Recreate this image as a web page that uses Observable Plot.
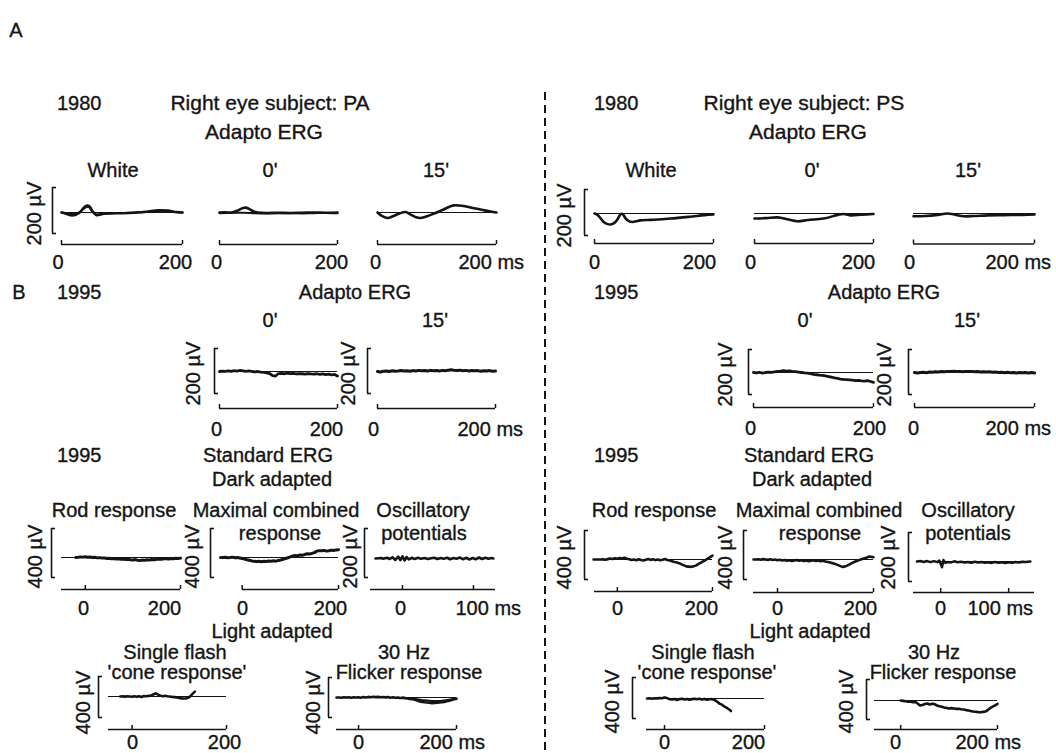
<!DOCTYPE html>
<html><head><meta charset="utf-8">
<script src="https://cdn.jsdelivr.net/npm/d3@7"></script>
<script src="https://cdn.jsdelivr.net/npm/@observablehq/plot@0.6"></script>
<style>
html,body{margin:0;padding:0;background:#fff;}
#fig{position:relative;width:1056px;height:753px;overflow:hidden;background:#fff;font-family:"Liberation Sans",Arial,Helvetica,sans-serif;color:#141414;}
.t{position:absolute;font-size:20px;line-height:20px;white-space:nowrap;-webkit-text-stroke:0.35px #141414;}
.t.big{font-size:21px;}
.p{position:absolute;}
.p svg{overflow:visible;max-width:none !important;height:auto;}
</style></head><body><div id="fig"></div>
<script>
const INK = "#141414";
const FONT = '"Liberation Sans", Arial, Helvetica, sans-serif';

// ---------- time grids (ms) ----------
const T_0_200 = [0,5,10,15,20,25,30,35,40,45,50,55,60,65,70,75,80,85,90,95,100,105,110,115,120,125,130,135,140,145,150,155,160,165,170,175,180,185,190,195,200];
const T_m50_200 = [-50,-45,-40,-35,-30,-25,-20,-15,-10,-5,0,5,10,15,20,25,30,35,40,45,50,55,60,65,70,75,80,85,90,95,100,105,110,115,120,125,130,135,140,145,150,155,160,165,170,175,180,185,190,195,200];

// ---------- 1980 Adapto ERG, subject PA (µV) ----------
const PA_white_t1 = [0,5,10,15,20,25,30,35,40,43,47,50,55,58,62,70,80,100,120,140,160,175,190,200];
const PA_white_v1 = [0,-3,-8,-12,-12,-8,0,15,28,30,25,10,-5,-12,-10,-5,-4,-3,-1,3,10,8,2,0];
const PA_white_t2 = [0,10,20,30,40,45,50,56,65,80,100,120,140,160,175,190,200];
const PA_white_v2 = [0,-4,-6,2,22,24,8,-8,-6,-3,-2,0,2,6,5,1,0];
const PA_0_t1 = [0,10,20,30,38,44,50,58,65,80,100,120,140,160,180,200];
const PA_0_v1 = [0,1,0,8,18,21,16,4,0,-2,-1,-2,-1,0,-1,0];
const PA_0_t2 = [0,20,40,60,80,100,120,140,160,180,200];
const PA_0_v2 = [-3,-2,-1,-3,-4,-3,-3,-4,-3,-2,-3];
const PA_15_t = [0,8,17,27,38,47,55,65,72,82,95,110,128,145,160,175,190,200];
const PA_15_v = [0,-16,-24,-15,-3,2,-8,-21,-24,-17,-5,12,31,28,20,12,4,0];

// ---------- 1980 Adapto ERG, subject PS ----------
const PS_white_t = [0,5,10,15,20,27,33,38,42,45,48,52,57,64,70,77,90,100,128,160,185,200];
const PS_white_v = [0,-6,-20,-36,-44,-48,-42,-28,-10,-1,-4,-20,-32,-37,-34,-30,-28,-27,-22,-14,-7,-4];
const PS_0_t = [0,20,39,55,72,90,116,140,150,161,180,200];
const PS_0_v = [-22,-20,-17,-25,-34,-28,-22,-6,-2,-8,-5,-2];
const PS_15_t = [0,20,40,56,70,83,100,122,150,180,200];
const PS_15_v = [-12,-11,-6,0,-6,-12,-11,-8,-7,-6,-4];

// ---------- 1995 Adapto ERG (on T_0_200) ----------
const PA95_0_v = [0,2,1,3,1,4,2,5,3,1,3,0,-2,0,-3,-4,-6,-9,-18,-20,-9,-8,-10,-7,-9,-8,-11,-9,-10,-12,-9,-11,-12,-10,-13,-11,-14,-12,-15,-13,-20];
const PA95_15_v = [0,-2,1,2,0,3,1,2,4,2,3,1,4,2,5,3,4,2,5,3,4,2,5,3,6,8,5,4,6,3,5,2,4,3,4,1,3,2,4,1,2];
const PS95_0_v = [0,-2,1,-3,0,2,1,3,5,6,8,6,7,5,4,2,0,-2,-3,-5,-8,-10,-12,-13,-15,-18,-21,-24,-26,-29,-31,-32,-33,-34,-36,-35,-37,-38,-36,-40,-44];
const PS95_15_v = [0,-2,0,1,-1,2,1,3,2,4,3,5,4,6,4,5,3,5,4,5,3,4,2,3,2,3,1,2,0,1,-1,1,-1,0,-2,0,-1,0,-2,0,-2];

// ---------- 1995 Standard ERG, dark adapted (on T_m50_200) ----------
const PA_rod_v = [null,null,null,null,null,null,0,2,5,3,6,2,4,0,2,-3,-1,-5,-3,-8,-6,-10,-8,-12,-10,-14,-12,-16,-14,-18,-20,-17,-22,-24,-21,-23,-19,-20,-16,-18,-14,-12,-15,-11,-10,-12,-8,-10,-6,-8,-5];
const PA_max_v = [null,0,0,2,-2,0,3,-2,0,-4,-8,-12,-18,-22,-28,-30,-33,-31,-34,-30,-33,-29,-31,-27,-30,-24,-20,-14,-8,-2,5,12,16,14,20,18,25,30,28,34,40,52,56,55,58,52,55,60,57,62,64];
const PS_rod_v = [0,0,0,0,1,-2,3,8,4,10,6,12,8,14,6,2,-4,0,-6,2,-4,-8,-2,4,-3,2,-5,0,-6,-2,4,-4,-8,-14,-20,-24,-30,-40,-48,-56,-58,-60,-56,-50,-38,-28,-16,-6,8,20,32];
const PS_max_v = [0,0,2,-2,3,0,-3,2,-4,0,-6,-2,-8,-4,-10,-6,-12,-8,-4,-10,-6,-12,-8,-14,-10,-6,-12,-8,-14,-10,-16,-20,-24,-30,-36,-44,-52,-60,-58,-50,-40,-30,-20,-12,-5,2,8,14,24,22,18];
// oscillatory potentials [ms, µV]
const PA_osc = [[-38,0],[-34,1],[-30,2],[-27,-1],[-22,3],[-18,-2],[-14,5],[-10,-6],[-6,8],[-3,-7],[0,9],[3,-8],[6,6],[9,-4],[13,3],[17,-2],[22,3],[26,-1],[31,2],[36,-2],[40,1],[45,3],[49,-2],[54,2],[58,-1],[63,3],[67,-3],[72,2],[76,-1],[81,4],[85,-3],[90,3],[94,-4],[99,2],[103,-3],[108,4],[112,-2],[117,3],[121,-1],[125,2],[128,0]];
const PS_osc = [[-35,0],[-30,2],[-25,-2],[-20,2],[-15,-3],[-10,2],[-5,-3],[-2,4],[0,-10],[2,-24],[4,6],[7,-6],[10,-2],[15,-4],[20,1],[25,-3],[30,-1],[35,-4],[40,-2],[45,-5],[50,-1],[55,-4],[60,-2],[65,-5],[70,-3],[75,-6],[80,-2],[85,-5],[90,-3],[95,-6],[100,-3],[105,-5],[110,-2],[115,-4],[120,-1],[125,-2],[132,0]];

// ---------- 1995 Standard ERG, light adapted ----------
const PA_cone = [[-25,0],[-20,1],[-15,-1],[-10,2],[-5,0],[0,-2],[5,3],[10,-3],[15,2],[20,-4],[25,4],[30,2],[35,6],[40,10],[45,20],[50,30],[55,18],[60,8],[65,3],[70,8],[75,2],[80,0],[85,-4],[90,-6],[95,-10],[100,-14],[105,-18],[110,-20],[115,-18],[120,-10],[125,10],[130,35],[133,48]];
const PA_flicker_v = [null,0,0,-2,2,0,3,-2,2,0,3,-2,4,0,6,3,8,4,6,2,5,1,4,-2,2,-3,0,-5,-2,-6,-10,-14,-18,-22,-30,-40,-45,-48,-50,-52,-56,-55,-52,-50,-48,-44,-38,-32,-24,-18,-12];
const PA_flicker_b = [[90,0],[95,-4],[100,-6],[105,-8],[110,-10],[115,-14],[120,-18],[125,-22],[130,-26],[135,-28],[140,-30],[145,-32],[150,-34],[155,-35],[160,-36],[165,-34],[170,-32],[175,-29],[180,-26],[185,-22],[190,-18],[195,-14],[200,-10]];
const PS_cone = [[-35,0],[-30,2],[-25,-2],[-20,3],[-15,1],[-10,4],[-5,2],[0,10],[5,4],[10,-6],[15,-10],[20,-4],[25,-14],[30,-6],[35,-2],[40,-10],[45,-4],[50,-12],[55,-6],[60,-2],[65,-8],[70,-2],[75,-10],[80,-4],[85,-12],[90,-8],[95,-6],[100,-14],[105,-30],[110,-50],[115,-60],[120,-80],[125,-92],[130,-110],[133,-122]];
const PS_flicker_v = [null,null,null,null,null,null,null,null,null,null,0,-4,-8,-12,-10,-18,-14,-30,-50,-44,-36,-30,-40,-32,-36,-50,-58,-62,-70,-74,-80,-76,-80,-84,-82,-88,-90,-96,-100,-106,-110,-112,-116,-118,-114,-110,-96,-76,-62,-48,-34];

// ---------- helpers ----------
const zip = (t, v) => t.map((x, i) => ({t: x, v: v[i]}));
const pairs = p => p.map(d => ({t: d[0], v: d[1]}));
const fig = document.getElementById("fig");

// ---------- text layout ----------
const textLayout = [
  ["A", 16, 30], 
  ["1980", 57, 103, "s"], ["Right eye subject: PA", 270, 103, "b"], ["Adapto ERG", 264, 132, "b"],
  ["White", 113, 170], ["0'", 270, 170], ["15'", 436, 170],
  ["1980", 594, 103, "s"], ["Right eye subject: PS", 804, 103, "b"], ["Adapto ERG", 808, 132, "b"],
  ["White", 651, 170], ["0'", 812, 170], ["15'", 968, 170],
  ["B", 19, 292], ["1995", 57, 292, "s"], ["Adapto ERG", 355, 292], ["0'", 270, 320], ["15'", 435, 320],
  ["1995", 594, 292, "s"], ["Adapto ERG", 884, 292], ["0'", 805, 320], ["15'", 967, 320],
  ["1995", 57, 455, "s"], ["Standard ERG", 268, 455], ["Dark adapted", 272, 479],
  ["Rod response", 114, 510], ["Maximal combined", 276, 510], ["response", 280, 533], ["Oscillatory", 423, 510], ["potentials", 424, 533],
  ["1995", 594, 455, "s"], ["Standard ERG", 809, 455], ["Dark adapted", 812, 479],
  ["Rod response", 654, 510], ["Maximal combined", 819, 510], ["response", 820, 533], ["Oscillatory", 968, 510], ["potentials", 968, 533],
  ["Light adapted", 272, 631], ["Single flash", 175, 652], ["'cone response'", 177, 672], ["30 Hz", 404, 652], ["Flicker response", 409, 672],
  ["Light adapted", 810, 631], ["Single flash", 703, 652], ["'cone response'", 707, 672], ["30 Hz", 934, 652], ["Flicker response", 943, 672]
];
for (const [s, x, y, a] of textLayout) {
  const d = document.createElement("div");
  d.className = a === "b" ? "t big" : "t"; d.textContent = s;
  d.style.left = x + "px"; d.style.top = y + "px";
  d.style.transform = a === "s" ? "translate(0,-50%)" : "translate(-50%,-50%)";
  fig.appendChild(d);
}

// dashed separator
fig.insertAdjacentHTML("beforeend", '<svg style="position:absolute;left:0;top:0" width="1056" height="753"><line x1="545" x2="545" y1="92" y2="753" stroke="'+INK+'" stroke-width="2" stroke-dasharray="8 5"/></svg>');

// ---------- panel drawing ----------
function drawPanel(L, traces) {
  const k = L.h / L.uv;
  const mpp = (L.dom[1] - L.dom[0]) / (L.px1 - L.px0);
  const toMs = X => L.dom[0] + (X - L.px0) * mpp;
  const toUV = Y => (L.baseY - Y) / k;
  const padL = 70, padR = 80;
  const left = L.px0 - padL, top = L.baseY - 50, bottom = L.axisY + 34;
  const width = (L.px1 - L.px0) + padL + padR, height = bottom - top;
  const marks = [];
  if (L.ref) marks.push(Plot.ruleY([0], {x1: L.ref[0], x2: L.ref[1], stroke: INK, strokeWidth: 1.1}));
  for (const tr of traces) {
    marks.push(Plot.line(tr.data, {x: "t", y: "v", curve: tr.curve || "linear", stroke: INK,
      strokeWidth: tr.w || 2.6, strokeLinejoin: "round", strokeLinecap: "round"}));
  }
  const txt = {fontSize: 20, fill: INK, stroke: INK, strokeWidth: 0.35};
  if (L.br) {
    const bx = toMs(L.br.x), yT = toUV(L.br.top), yB = toUV(L.br.top + L.h);
    marks.push(Plot.ruleX([bx], {y1: yB, y2: yT, stroke: INK, strokeWidth: 1.6}));
    marks.push(Plot.ruleY([yT, yB], {x1: bx, x2: toMs(L.br.x + 4), stroke: INK, strokeWidth: 1.6}));
    marks.push(Plot.text([L.uv + " µV"], {...txt, x: toMs(L.br.lx), y: toUV(L.br.ly), rotate: -90, textAnchor: "middle"}));
  }
  const ay = toUV(L.axisY);
  marks.push(Plot.ruleY([ay], {x1: L.axis[0], x2: L.axis[1], stroke: INK, strokeWidth: 1.5}));
  marks.push(Plot.ruleX(L.ticks, {x: d => d, y1: ay, y2: toUV(L.axisY - 4), stroke: INK, strokeWidth: 1.5}));
  const ly = toUV(L.lblY);
  marks.push(Plot.text(L.lbl.filter(d => d[2] !== "s"), {...txt, x: d => toMs(d[1]), y: ly, text: d => d[0], textAnchor: "middle"}));
  marks.push(Plot.text(L.lbl.filter(d => d[2] === "s"), {...txt, x: d => toMs(d[1]), y: ly, text: d => d[0], textAnchor: "start"}));
  const svg = Plot.plot({
    width, height, marginLeft: padL, marginRight: padR, marginTop: 0, marginBottom: 0,
    x: {domain: L.dom, axis: null}, y: {domain: [toUV(bottom), toUV(top)], axis: null},
    style: {fontFamily: FONT, fontSize: "20px", background: "transparent", color: INK, overflow: "visible", maxWidth: "none"},
    marks
  });
  svg.style.maxWidth = "none";
  svg.style.width = width + "px";
  svg.style.height = height + "px";
  const div = document.createElement("div");
  div.className = "p"; div.style.left = left + "px"; div.style.top = top + "px";
  div.style.width = width + "px"; div.style.height = height + "px";
  div.appendChild(svg); fig.appendChild(div);
}

const A = {dom: [0, 200], h: 46, uv: 200, axis: [0, 200], ticks: [0, 200], lblY: 262, ref: [0, 200]};
const CR = "catmull-rom";
// 1980 PA
drawPanel({...A, px0: 61, px1: 182, baseY: 212, axisY: 244, lbl: [["0", 57.5], ["200", 175]], br: {x: 52, top: 187, lx: 34, ly: 213}},
  [{data: zip(PA_white_t1, PA_white_v1), curve: CR}, {data: zip(PA_white_t2, PA_white_v2), curve: CR, w: 2}]);
drawPanel({...A, px0: 219, px1: 337, baseY: 212, axisY: 244, lbl: [["0", 216], ["200", 331]]},
  [{data: zip(PA_0_t1, PA_0_v1), curve: CR}, {data: zip(PA_0_t2, PA_0_v2), curve: CR, w: 2}]);
drawPanel({...A, px0: 377, px1: 496, baseY: 212, axisY: 244, lbl: [["0", 375], ["200 ms", 458, "s"]]},
  [{data: zip(PA_15_t, PA_15_v), curve: CR}]);
// 1980 PS
drawPanel({...A, px0: 594, px1: 713, baseY: 213, axisY: 243, lbl: [["0", 594], ["200", 699]], br: {x: 584, top: 189, lx: 564, ly: 215}},
  [{data: zip(PS_white_t, PS_white_v), curve: CR}]);
drawPanel({...A, px0: 754, px1: 873, baseY: 213, axisY: 243, lbl: [["0", 750], ["200", 858]]},
  [{data: zip(PS_0_t, PS_0_v), curve: CR}]);
drawPanel({...A, px0: 913, px1: 1034, baseY: 212.5, axisY: 243, lbl: [["0", 909], ["200 ms", 985, "s"]]},
  [{data: zip(PS_15_t, PS_15_v), curve: CR}]);

// 1995 Adapto
const B = {dom: [0, 200], h: 45, uv: 200, axis: [0, 200], ticks: [0, 200]};
drawPanel({...B, px0: 219, px1: 337, baseY: 371, axisY: 408, lblY: 429, ref: [0, 200], lbl: [["0", 216], ["200", 326]], br: {x: 214, top: 348, lx: 193, ly: 373}},
  [{data: zip(T_0_200, PA95_0_v), w: 2.8}]);
drawPanel({...B, px0: 377, px1: 495, baseY: 371, axisY: 408, lblY: 429, lbl: [["0", 373], ["200 ms", 457, "s"]], br: {x: 367, top: 348, lx: 348, ly: 373}},
  [{data: zip(T_0_200, PA95_15_v), w: 3}]);
drawPanel({...B, px0: 753, px1: 873, baseY: 372, axisY: 407, lblY: 428, ref: [0, 200], lbl: [["0", 750], ["200", 869]], br: {x: 748, top: 349, lx: 725, ly: 374}},
  [{data: zip(T_0_200, PS95_0_v), w: 2.8}]);
drawPanel({...B, px0: 914, px1: 1034, baseY: 372, axisY: 407, lblY: 428, lbl: [["0", 913], ["200 ms", 985, "s"]], br: {x: 908, top: 349, lx: 884, ly: 374}},
  [{data: zip(T_0_200, PS95_15_v), w: 3}]);

// 1995 Standard, dark adapted
const S = {h: 49, ticks: [0, 200]};
drawPanel({...S, uv: 400, dom: [-50, 200], px0: 61, px1: 180, baseY: 557, axisY: 589, axis: [-50, 200], lblY: 608, ref: [-50, 200], lbl: [["0", 83], ["200", 164]], br: {x: 51, top: 528, lx: 35, ly: 556}},
  [{data: zip(T_m50_200, PA_rod_v), w: 3}]);
drawPanel({...S, uv: 400, dom: [-45, 200], px0: 220, px1: 338, baseY: 557, axisY: 589, axis: [0, 200], lblY: 608, ref: [-45, 200], lbl: [["0", 242], ["200", 330]], br: {x: 210, top: 528, lx: 192, ly: 556}},
  [{data: zip(T_m50_200, PA_max_v), w: 3}]);
drawPanel({...S, uv: 200, dom: [-45, 131], px0: 370, px1: 495, baseY: 558, axisY: 589, axis: [-45, 131], ticks: [0, 100], lblY: 608, ref: [-38, 128], lbl: [["0", 400], ["100 ms", 455, "s"]], br: {x: 364, top: 528, lx: 350, ly: 556}},
  [{data: pairs(PA_osc), w: 2.6}]);
drawPanel({...S, uv: 400, dom: [-48, 200], px0: 594, px1: 712, baseY: 559, axisY: 591, axis: [-48, 200], lblY: 608, ref: [-48, 200], lbl: [["0", 617], ["200", 701]], br: {x: 584, top: 530, lx: 564, ly: 557}},
  [{data: zip(T_m50_200, PS_rod_v), w: 2.6}]);
drawPanel({...S, uv: 400, dom: [-50, 200], px0: 753, px1: 873, baseY: 559, axisY: 592, axis: [-50, 200], lblY: 608, ref: [-50, 200], lbl: [["0", 777], ["200", 860]], br: {x: 743, top: 530, lx: 725, ly: 557}},
  [{data: zip(T_m50_200, PS_max_v), w: 2.6}]);
drawPanel({...S, uv: 200, dom: [-40, 138], px0: 913, px1: 1034, baseY: 561, axisY: 592, axis: [-40, 138], ticks: [0, 100], lblY: 608, ref: [-35, 132], lbl: [["0", 940], ["100 ms", 967, "s"]], br: {x: 908, top: 532, lx: 888, ly: 557}},
  [{data: pairs(PS_osc), w: 2.4}]);

// 1995 Standard, light adapted
const LA = {uv: 400, ticks: [0, 200], axisY: 729, lblY: 742};
drawPanel({...LA, h: 41, dom: [-50, 200], px0: 108, px1: 226, baseY: 696, axis: [-50, 200], ref: [-50, 200], lbl: [["0", 132], ["200", 224]], br: {x: 98, top: 676, lx: 83, ly: 702}},
  [{data: pairs(PA_cone), w: 2.6}]);
drawPanel({...LA, h: 40, dom: [-45, 200], px0: 336, px1: 456, baseY: 697, axis: [-45, 200], ref: [-45, 200], lbl: [["0", 358], ["200 ms", 419, "s"]], br: {x: 328, top: 677, lx: 313, ly: 702}},
  [{data: zip(T_m50_200, PA_flicker_v), w: 2.6}, {data: pairs(PA_flicker_b), w: 2}]);
drawPanel({...LA, h: 41, dom: [-36, 200], px0: 646, px1: 764, baseY: 698, axis: [-36, 200], ref: [-36, 200], lbl: [["0", 664], ["200", 748]], br: {x: 632, top: 677, lx: 612, ly: 701}},
  [{data: pairs(PS_cone), w: 2.6}]);
drawPanel({...LA, h: 40, dom: [-54, 200], px0: 874, px1: 997, baseY: 700, axis: [-54, 200], ref: [-54, 200], lbl: [["0", 895], ["200 ms", 955, "s"]], br: {x: 866, top: 679, lx: 846, ly: 701}},
  [{data: zip(T_m50_200, PS_flicker_v), w: 2.6}]);
</script></body></html>
